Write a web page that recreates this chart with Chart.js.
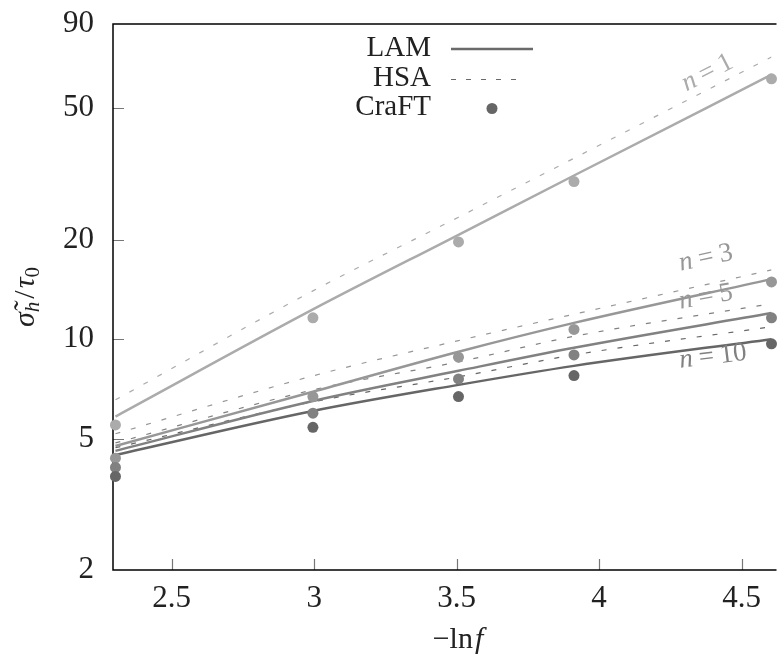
<!DOCTYPE html>
<html>
<head>
<meta charset="utf-8">
<script src="https://cdn.jsdelivr.net/npm/chart.js@4.4.0/dist/chart.umd.min.js"></script>
<style>
html, body { margin: 0; padding: 0; background: #fff; }
</style>
</head>
<body>
<canvas id="chart" width="777" height="664"></canvas>
<script>
// -ln f for f = 0.1, 0.05, 0.03, 0.02, 0.01
const xs = [2.3026, 2.9957, 3.5066, 3.9120, 4.6052];
const xTicks = [2.5, 3, 3.5, 4, 4.5];
const yTicks = [2, 5, 10, 20, 50, 90];

// LAM (solid)
const lam1 = [5.83, 12.3, 20.7, 31.3, 63.2];
const lam3 = [4.75, 6.93, 9.16, 11.2, 15.2];
const lam5 = [4.59, 6.5, 8.02, 9.42, 12.0];
const lam10 = [4.46, 6.06, 7.27, 8.3, 10.0];
// HSA (dashed)
const hsa1 = [6.55, 14.0, 23.4, 35.3, 71.5];
const hsa3 = [5.17, 7.74, 9.9, 11.9, 16.2];
const hsa5 = [4.85, 7.02, 8.54, 10.2, 12.8];
const hsa10 = [4.69, 6.46, 7.69, 8.96, 10.9];
// CraFT (points)
const craft1 = [5.5, 11.6, 19.7, 30.0, 61.4];
const craft3 = [4.36, 6.7, 8.82, 10.7, 14.9];
const craft5 = [4.09, 5.97, 7.58, 8.96, 11.6];
const craft10 = [3.84, 5.41, 6.70, 7.76, 9.68];

const c1 = "#ababab", c3 = "#979797", c5 = "#818181", c10 = "#666666";
const serif = "'Liberation Serif', 'Times New Roman', Times, serif";

const pts = ys => ys.map((v, i) => ({ x: xs[i], y: v }));

function craftSet(ys, color) {
	return { data: pts(ys), showLine: false, pointRadius: 5.5, pointHoverRadius: 5.5,
		pointBackgroundColor: color, pointBorderWidth: 0, clip: false };
}
function lamSet(ys, color) {
	return { data: pts(ys), borderColor: color, borderWidth: 2.5, pointRadius: 0,
		cubicInterpolationMode: "monotone" };
}
function hsaSet(ys, color) {
	return { data: pts(ys), borderColor: color, borderWidth: 1.2, borderDash: [5, 11],
		pointRadius: 0, cubicInterpolationMode: "monotone" };
}

// curve labels (data coords) and angle in degrees
const curveLabels = [
	{ n: "1", x: 4.38, y: 64, angle: -27, color: c1 },
	{ n: "3", x: 4.375, y: 17.6, angle: -12, color: c3 },
	{ n: "5", x: 4.375, y: 13.4, angle: -10, color: c3 },
	{ n: "10", x: 4.40, y: 8.85, angle: -7, color: c5 }
];

// draw a run of text pieces with different fonts
function drawParts(ctx, parts, x, y) {
	let w = 0;
	for (const p of parts) { ctx.font = p.font; p.w = ctx.measureText(p.t).width; w += p.w + (p.gap || 0); }
	let cx = x - w / 2;
	for (const p of parts) {
		ctx.font = p.font;
		ctx.fillText(p.t, cx, y + (p.dy || 0));
		cx += p.w + (p.gap || 0);
	}
}

const decor = {
	id: "decor",
	beforeDatasetsDraw(chart) {
		const { ctx, chartArea: a, scales: { x, y } } = chart;
		ctx.save();
		// ticks pointing inwards
		ctx.strokeStyle = "#777";
		ctx.lineWidth = 1.2;
		ctx.beginPath();
		for (const v of yTicks) {
			if (v === 2 || v === 90) continue;
			const py = Math.round(y.getPixelForValue(v)) + 0.5;
			ctx.moveTo(a.left, py); ctx.lineTo(a.left + 11, py);
		}
		for (const v of xTicks) {
			const px = Math.round(x.getPixelForValue(v)) + 0.5;
			ctx.moveTo(px, a.bottom); ctx.lineTo(px, a.bottom - 11);
		}
		ctx.stroke();
		// frame
		ctx.strokeStyle = "#000";
		ctx.lineWidth = 1.5;
		ctx.beginPath();
		ctx.moveTo(a.right + 5, a.top);
		ctx.lineTo(a.left, a.top);
		ctx.lineTo(a.left, a.bottom);
		ctx.lineTo(a.right + 5, a.bottom);
		ctx.stroke();
		ctx.restore();
	},
	afterDraw(chart) {
		const { ctx, chartArea: a, scales: { x, y } } = chart;
		ctx.save();
		ctx.textBaseline = "middle";
		ctx.fillStyle = "#222";

		// x title
		drawParts(ctx, [
			{ t: "\u2212ln", font: "30px " + serif, gap: 2 },
			{ t: "f", font: "italic 30px " + serif }
		], 458, 640);

		// y title
		ctx.save();
		ctx.translate(26, 297);
		ctx.rotate(-Math.PI / 2);
		drawParts(ctx, [
			{ t: "\u03c3\u0303", font: "italic 30px " + serif },
			{ t: "h", font: "italic 21px " + serif, dy: 7, gap: 3 },
			{ t: "/", font: "30px " + serif, gap: 2 },
			{ t: "\u03c4", font: "italic 30px " + serif },
			{ t: "0", font: "21px " + serif, dy: 7 }
		], 0, 0);
		ctx.restore();

		// legend
		ctx.font = "29px " + serif;
		ctx.textAlign = "right";
		ctx.fillText("LAM", 431, 48);
		ctx.fillText("HSA", 431, 78);
		ctx.fillText("CraFT", 431, 107);
		ctx.textAlign = "left";
		ctx.strokeStyle = "#6a6a6a";
		ctx.lineWidth = 2.5;
		ctx.beginPath(); ctx.moveTo(451, 49); ctx.lineTo(533, 49); ctx.stroke();
		ctx.lineWidth = 1.2;
		ctx.setLineDash([5, 10]);
		ctx.beginPath(); ctx.moveTo(451, 79.5); ctx.lineTo(524, 79.5); ctx.stroke();
		ctx.setLineDash([]);
		ctx.fillStyle = "#666";
		ctx.beginPath(); ctx.arc(492, 108.5, 5.5, 0, Math.PI * 2); ctx.fill();

		// curve labels
		for (const l of curveLabels) {
			ctx.save();
			ctx.translate(x.getPixelForValue(l.x), y.getPixelForValue(l.y));
			ctx.rotate(l.angle * Math.PI / 180);
			ctx.fillStyle = l.color;
			drawParts(ctx, [
				{ t: "n", font: "italic 27px " + serif, gap: 6 },
				{ t: "=", font: "27px " + serif, gap: 6 },
				{ t: l.n, font: "27px " + serif }
			], 0, 0);
			ctx.restore();
		}
		ctx.restore();
	}
};

new Chart(document.getElementById("chart"), {
	type: "line",
	data: {
		datasets: [
			craftSet(craft10, c10), craftSet(craft5, c5), craftSet(craft3, c3), craftSet(craft1, c1),
			lamSet(lam10, c10), lamSet(lam5, c5), lamSet(lam3, c3), lamSet(lam1, c1),
			hsaSet(hsa10, c10), hsaSet(hsa5, c5), hsaSet(hsa3, c3), hsaSet(hsa1, c1)
		]
	},
	options: {
		responsive: false,
		animation: false,
		devicePixelRatio: 1,
		layout: { padding: { top: 24, left: 0, right: 0, bottom: 0 } },
		plugins: { legend: { display: false }, tooltip: { enabled: false } },
		scales: {
			x: {
				type: "linear",
				min: 2.294,
				max: 4.6052,
				afterBuildTicks: s => { s.ticks = xTicks.map(v => ({ value: v })); },
				afterFit: s => { s.height = 94; s.paddingLeft = 0; s.paddingRight = 0; },
				ticks: { font: { family: serif, size: 31 }, color: "#222", padding: 10,
					maxRotation: 0, autoSkip: false, callback: v => String(v) },
				grid: { display: false, drawTicks: false },
				border: { display: false }
			},
			y: {
				type: "logarithmic",
				min: 2,
				max: 90,
				afterBuildTicks: s => { s.ticks = yTicks.map(v => ({ value: v })); },
				afterFit: s => { s.width = 113; s.paddingTop = 0; s.paddingBottom = 0; },
				ticks: { font: { family: serif, size: 31 }, color: "#222", padding: 19,
					autoSkip: false, callback: v => String(v) },
				grid: { display: false, drawTicks: false },
				border: { display: false }
			}
		}
	},
	plugins: [decor]
});
</script>
</body>
</html>
